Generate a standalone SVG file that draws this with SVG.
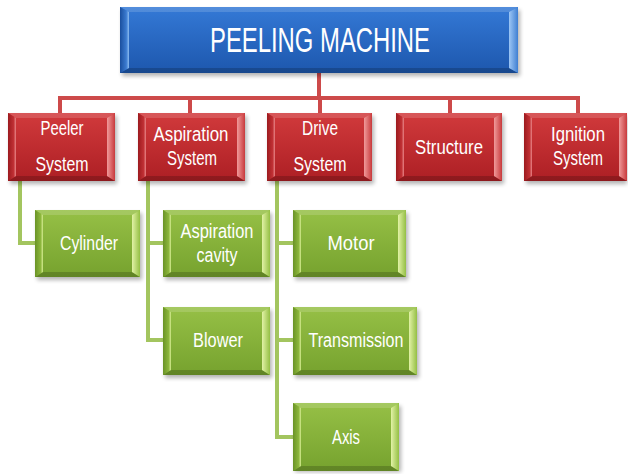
<svg xmlns="http://www.w3.org/2000/svg" width="628" height="474" viewBox="0 0 628 474">
<defs>
<linearGradient id="gBlue" x1="0" y1="0" x2="0" y2="1"><stop offset="0" stop-color="#3479d6"/><stop offset="1" stop-color="#1d57ad"/></linearGradient>
<linearGradient id="gRed" x1="0" y1="0" x2="0" y2="1"><stop offset="0" stop-color="#d13a3c"/><stop offset="1" stop-color="#ad1f24"/></linearGradient>
<linearGradient id="gGreen" x1="0" y1="0" x2="0" y2="1"><stop offset="0" stop-color="#96c046"/><stop offset="1" stop-color="#76a22e"/></linearGradient>
<linearGradient id="gBlueR" x1="0" y1="0" x2="1" y2="0"><stop offset="0" stop-color="#9cc6f5"/><stop offset="1" stop-color="#3f7fd2"/></linearGradient>
<linearGradient id="gRedR" x1="0" y1="0" x2="1" y2="0"><stop offset="0" stop-color="#f09a9a"/><stop offset="1" stop-color="#c83a3c"/></linearGradient>
<linearGradient id="gGreenR" x1="0" y1="0" x2="1" y2="0"><stop offset="0" stop-color="#e2f2a6"/><stop offset="1" stop-color="#94bf44"/></linearGradient>
<linearGradient id="gBlueL" x1="0" y1="0" x2="1" y2="0"><stop offset="0" stop-color="#1a4f9e"/><stop offset="0.7" stop-color="#3b7bd0"/><stop offset="1" stop-color="#8cbcf0"/></linearGradient>
<linearGradient id="gRedL" x1="0" y1="0" x2="1" y2="0"><stop offset="0" stop-color="#9c1a1e"/><stop offset="0.7" stop-color="#c03034"/><stop offset="1" stop-color="#e88486"/></linearGradient>
<linearGradient id="gGreenL" x1="0" y1="0" x2="1" y2="0"><stop offset="0" stop-color="#6a9326"/><stop offset="0.7" stop-color="#8cb63c"/><stop offset="1" stop-color="#d4eb90"/></linearGradient>
<filter id="sh" x="-10%" y="-10%" width="130%" height="140%"><feGaussianBlur stdDeviation="2"/></filter>
<style>
.shadow{fill:#000;opacity:0.3;filter:url(#sh)}
.bBlue{fill:url(#gBlue)} .bRed{fill:url(#gRed)} .bGreen{fill:url(#gGreen)}
.rBlue{fill:url(#gBlueR)} .rRed{fill:url(#gRedR)} .rGreen{fill:url(#gGreenR)}
.lBlue{fill:url(#gBlueL)} .lRed{fill:url(#gRedL)} .lGreen{fill:url(#gGreenL)}
.bot{fill:#000;opacity:0.18}
.top{fill:#fff;opacity:0.15}
text{font-family:"Liberation Sans","Arial",sans-serif;fill:#fff;text-anchor:middle}
.t1{font-size:35px}
.t2{font-size:20px}
.redC{fill:none;stroke:#cd4a4a;stroke-width:4}
.grnC{fill:none;stroke:#a3c55f;stroke-width:4}
</style>
</defs>
<rect width="628" height="474" fill="#fff"/>
<g id="connectors">
<path class="redC" d="M319 73V98M58 98H580M60 98V113M190 98V113M320 98V113M450 98V113M578 98V113"/>
<path class="grnC" d="M20 181V243H35M148 181V340H163M148 243H163M277 181V437H293M277 243H293M277 340H293"/>
</g>
<g id="title">
<rect class="shadow" x="122" y="10" width="398" height="66"/>
<rect class="bBlue" x="120" y="7" width="398" height="66"/>
<polygon class="top" points="120,7 518,7 509,12 129,12"/>
<polygon class="bot" points="120,73 518,73 509,68 129,68"/>
<polygon class="lBlue" points="120,7 129,12 129,68 120,73"/>
<polygon class="rBlue" points="518,7 509,12 509,68 518,73"/>
<text class="t1" x="320" y="52" textLength="220" lengthAdjust="spacingAndGlyphs">PEELING MACHINE</text>
</g>
<g id="peeler">
<rect class="shadow" x="10" y="116" width="107" height="68"/>
<rect class="bRed" x="8" y="113" width="107" height="68"/>
<polygon class="top" points="8,113 115,113 107,118 16,118"/>
<polygon class="bot" points="8,181 115,181 107,176 16,176"/>
<polygon class="lRed" points="8,113 16,118 16,176 8,181"/>
<polygon class="rRed" points="115,113 107,118 107,176 115,181"/>
<text class="t2" x="62" y="135" textLength="43" lengthAdjust="spacingAndGlyphs">Peeler</text>
<text class="t2" x="62" y="171" textLength="53" lengthAdjust="spacingAndGlyphs">System</text>
</g>
<g id="aspiration">
<rect class="shadow" x="140" y="116" width="107" height="68"/>
<rect class="bRed" x="138" y="113" width="107" height="68"/>
<polygon class="top" points="138,113 245,113 237,118 146,118"/>
<polygon class="bot" points="138,181 245,181 237,176 146,176"/>
<polygon class="lRed" points="138,113 146,118 146,176 138,181"/>
<polygon class="rRed" points="245,113 237,118 237,176 245,181"/>
<text class="t2" x="191" y="141" textLength="75" lengthAdjust="spacingAndGlyphs">Aspiration</text>
<text class="t2" x="192" y="165" textLength="50" lengthAdjust="spacingAndGlyphs">System</text>
</g>
<g id="drive">
<rect class="shadow" x="269" y="116" width="105" height="68"/>
<rect class="bRed" x="267" y="113" width="105" height="68"/>
<polygon class="top" points="267,113 372,113 364,118 275,118"/>
<polygon class="bot" points="267,181 372,181 364,176 275,176"/>
<polygon class="lRed" points="267,113 275,118 275,176 267,181"/>
<polygon class="rRed" points="372,113 364,118 364,176 372,181"/>
<text class="t2" x="320" y="135" textLength="36" lengthAdjust="spacingAndGlyphs">Drive</text>
<text class="t2" x="320" y="171" textLength="53" lengthAdjust="spacingAndGlyphs">System</text>
</g>
<g id="structure">
<rect class="shadow" x="398" y="116" width="106" height="68"/>
<rect class="bRed" x="396" y="113" width="106" height="68"/>
<polygon class="top" points="396,113 502,113 494,118 404,118"/>
<polygon class="bot" points="396,181 502,181 494,176 404,176"/>
<polygon class="lRed" points="396,113 404,118 404,176 396,181"/>
<polygon class="rRed" points="502,113 494,118 494,176 502,181"/>
<text class="t2" x="449" y="154" textLength="68" lengthAdjust="spacingAndGlyphs">Structure</text>
</g>
<g id="ignition">
<rect class="shadow" x="526" y="116" width="101" height="68"/>
<rect class="bRed" x="524" y="113" width="103" height="68"/>
<polygon class="top" points="524,113 627,113 619,118 532,118"/>
<polygon class="bot" points="524,181 627,181 619,176 532,176"/>
<polygon class="lRed" points="524,113 532,118 532,176 524,181"/>
<polygon class="rRed" points="627,113 619,118 619,176 627,181"/>
<text class="t2" x="578" y="141" textLength="54" lengthAdjust="spacingAndGlyphs">Ignition</text>
<text class="t2" x="578" y="165" textLength="50" lengthAdjust="spacingAndGlyphs">System</text>
</g>
<g id="cylinder">
<rect class="shadow" x="37" y="213" width="105" height="67"/>
<rect class="bGreen" x="35" y="210" width="105" height="67"/>
<polygon class="top" points="35,210 140,210 132,215 43,215"/>
<polygon class="bot" points="35,277 140,277 132,272 43,272"/>
<polygon class="lGreen" points="35,210 43,215 43,272 35,277"/>
<polygon class="rGreen" points="140,210 132,215 132,272 140,277"/>
<text class="t2" x="89" y="250" textLength="58" lengthAdjust="spacingAndGlyphs">Cylinder</text>
</g>
<g id="aspiration-cavity">
<rect class="shadow" x="165" y="213" width="107" height="67"/>
<rect class="bGreen" x="163" y="210" width="107" height="67"/>
<polygon class="top" points="163,210 270,210 262,215 171,215"/>
<polygon class="bot" points="163,277 270,277 262,272 171,272"/>
<polygon class="lGreen" points="163,210 171,215 171,272 163,277"/>
<polygon class="rGreen" points="270,210 262,215 262,272 270,277"/>
<text class="t2" x="217" y="238" textLength="73" lengthAdjust="spacingAndGlyphs">Aspiration</text>
<text class="t2" x="217" y="262" textLength="41" lengthAdjust="spacingAndGlyphs">cavity</text>
</g>
<g id="motor">
<rect class="shadow" x="295" y="213" width="113" height="67"/>
<rect class="bGreen" x="293" y="210" width="113" height="67"/>
<polygon class="top" points="293,210 406,210 398,215 301,215"/>
<polygon class="bot" points="293,277 406,277 398,272 301,272"/>
<polygon class="lGreen" points="293,210 301,215 301,272 293,277"/>
<polygon class="rGreen" points="406,210 398,215 398,272 406,277"/>
<text class="t2" x="351" y="250" textLength="47" lengthAdjust="spacingAndGlyphs">Motor</text>
</g>
<g id="blower">
<rect class="shadow" x="165" y="310" width="107" height="68"/>
<rect class="bGreen" x="163" y="307" width="107" height="68"/>
<polygon class="top" points="163,307 270,307 262,312 171,312"/>
<polygon class="bot" points="163,375 270,375 262,370 171,370"/>
<polygon class="lGreen" points="163,307 171,312 171,370 163,375"/>
<polygon class="rGreen" points="270,307 262,312 262,370 270,375"/>
<text class="t2" x="218" y="347" textLength="50" lengthAdjust="spacingAndGlyphs">Blower</text>
</g>
<g id="transmission">
<rect class="shadow" x="295" y="310" width="124" height="68"/>
<rect class="bGreen" x="293" y="307" width="124" height="68"/>
<polygon class="top" points="293,307 417,307 409,312 301,312"/>
<polygon class="bot" points="293,375 417,375 409,370 301,370"/>
<polygon class="lGreen" points="293,307 301,312 301,370 293,375"/>
<polygon class="rGreen" points="417,307 409,312 409,370 417,375"/>
<text class="t2" x="356" y="347" textLength="95" lengthAdjust="spacingAndGlyphs">Transmission</text>
</g>
<g id="axis">
<rect class="shadow" x="295" y="406" width="106" height="66"/>
<rect class="bGreen" x="293" y="403" width="106" height="68"/>
<polygon class="top" points="293,403 399,403 391,408 301,408"/>
<polygon class="bot" points="293,471 399,471 391,466 301,466"/>
<polygon class="lGreen" points="293,403 301,408 301,466 293,471"/>
<polygon class="rGreen" points="399,403 391,408 391,466 399,471"/>
<text class="t2" x="346" y="444" textLength="28" lengthAdjust="spacingAndGlyphs">Axis</text>
</g>
</svg>
